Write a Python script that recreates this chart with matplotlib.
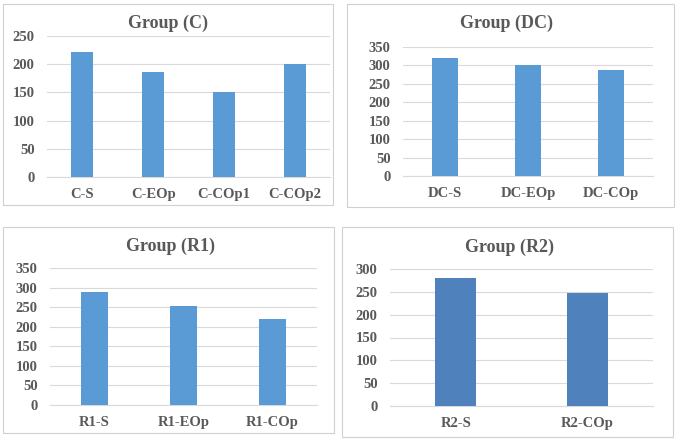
import matplotlib
matplotlib.use("Agg")
import matplotlib.pyplot as plt
from matplotlib.patches import Rectangle

W, H = 677, 441

c_cats = ["C-S", "C-EOp", "C-COp1", "C-COp2"]
c_vals = [222, 187, 150, 200]
dc_cats = ["DC-S", "DC-EOp", "DC-COp"]
dc_vals = [320, 301, 288]
r1_cats = ["R1-S", "R1-EOp", "R1-COp"]
r1_vals = [289, 252, 220]
r2_cats = ["R2-S", "R2-COp"]
r2_vals = [280, 247]

titles = ["Group (C)", "Group (DC)", "Group (R1)", "Group (R2)"]
ylims = [250, 350, 350, 300]

plt.rcParams['font.family'] = ['Liberation Serif', 'DejaVu Serif']
fig = plt.figure(figsize=(W / 100, H / 100), dpi=100)

TXT = "#595959"
GRID = "#D9D9D9"

def px_axes(x0, y0, x1, y1):
    return fig.add_axes([x0 / W, (H - y1) / H, (x1 - x0) / W, (y1 - y0) / H])

def box(x0, y0, x1, y1):
    fig.patches.append(Rectangle((x0 / W, (H - y1) / H), (x1 - x0) / W, (y1 - y0) / H,
                                 transform=fig.transFigure, fill=False,
                                 edgecolor="#D0D0D0", linewidth=0.8))

panels = [
    (c_cats, c_vals, (47, 36, 330, 177), (3, 4, 333, 205), (168, 23), "#5B9BD5"),
    (dc_cats, dc_vals, (403, 47, 653, 176), (347, 4, 674, 207), (507, 23), "#5B9BD5"),
    (r1_cats, r1_vals, (50, 268, 317, 405), (3, 227, 334, 433), (170, 246), "#5B9BD5"),
    (r2_cats, r2_vals, (390, 269, 653, 406), (342, 227, 673, 437), (510, 247), "#4F81BD"),
]

for i, (cats, vals, ax_px, box_px, tpos, col) in enumerate(panels):
    box(*box_px)
    ax = px_axes(*ax_px)
    x = list(range(len(cats)))
    ax.bar(x, vals, width=0.31, color=col, zorder=3)
    ax.set_xlim(-0.5, len(cats) - 0.5)
    ax.set_ylim(0, ylims[i])
    ax.set_yticks(list(range(0, ylims[i] + 1, 50)))
    ax.set_xticks(x)
    ax.set_xticklabels(cats)
    ax.yaxis.grid(True, color=GRID, linewidth=0.8, zorder=0)
    for s in ["top", "right", "left"]:
        ax.spines[s].set_visible(False)
    ax.spines["bottom"].set_color(GRID)
    ax.spines["bottom"].set_linewidth(0.8)
    ax.tick_params(length=0, colors=TXT, labelsize=10.5)
    ax.tick_params(axis="y", pad=9)
    ax.tick_params(axis="x", pad=8)
    for lab in ax.get_xticklabels() + ax.get_yticklabels():
        lab.set_fontweight("bold")
    ax.set_facecolor("none")
    fig.text(tpos[0] / W, (H - tpos[1]) / H, titles[i], ha="center", va="center",
             fontsize=13, fontweight="bold", color=TXT)

fig.savefig("out.png", dpi=100)
